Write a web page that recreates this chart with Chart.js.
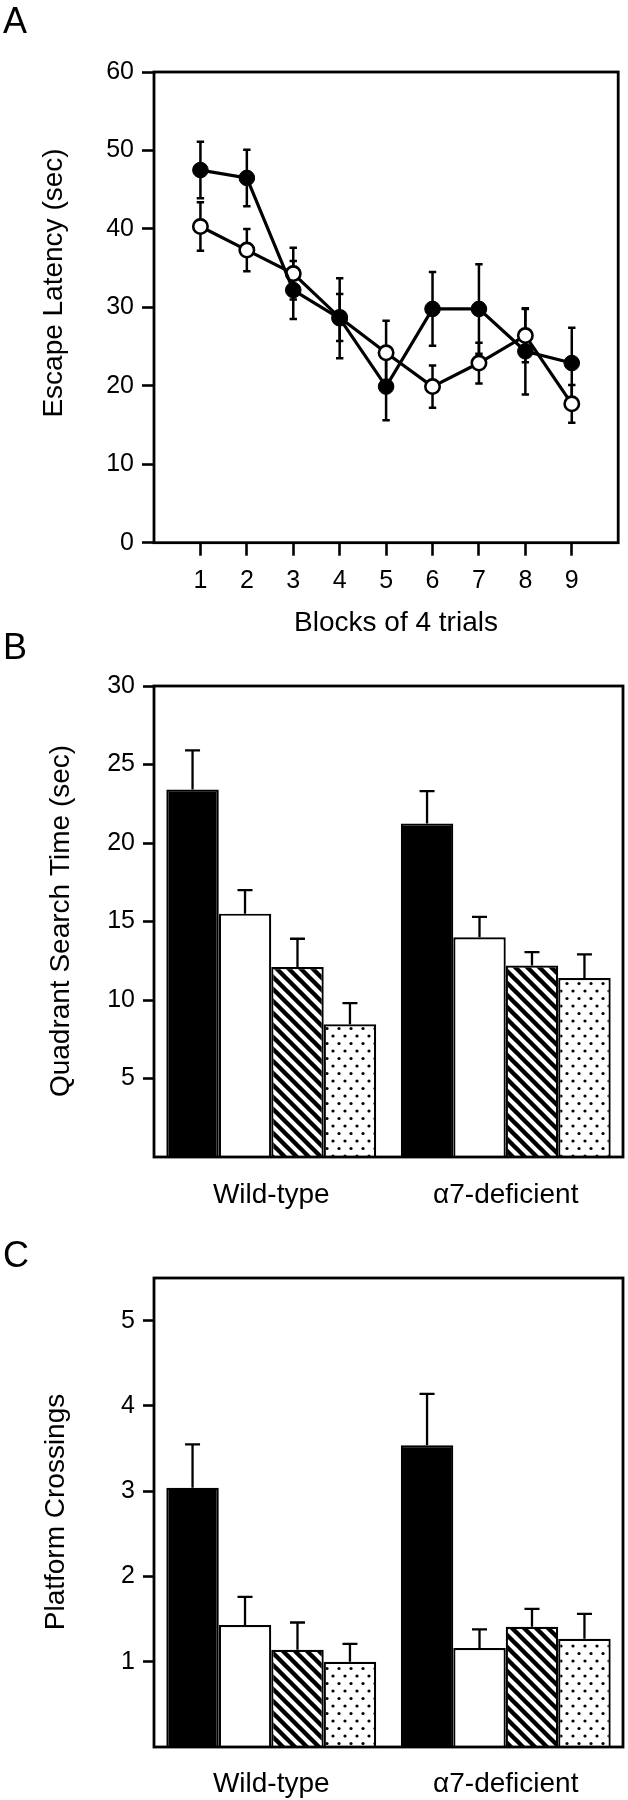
<!DOCTYPE html>
<html>
<head>
<meta charset="utf-8">
<script src="https://cdn.jsdelivr.net/npm/chart.js@4.4.1/dist/chart.umd.min.js"></script>
<style>
  html, body { margin: 0; padding: 0; background: #fff; }
  body { width: 628px; height: 1800px; position: relative; overflow: hidden; }
  canvas { position: absolute; left: 0; }
</style>
</head>
<body>
<canvas id="chartA" width="628" height="660" style="top:0px"></canvas>
<canvas id="chartB" width="628" height="600" style="top:620px"></canvas>
<canvas id="chartC" width="628" height="600" style="top:1200px"></canvas>
<script>
// ─── Panel A: escape latency per block ────────────────────
const BLOCKS       = [1, 2, 3, 4, 5, 6, 7, 8, 9];
const A_Y_TICKS    = [0, 10, 20, 30, 40, 50, 60];
const A_FILLED     = [47.5, 46.5, 32.2, 28.6, 19.9, 29.8, 29.8, 24.4, 22.9];
const A_FILLED_ERR = [3.6, 3.6, 3.7, 5.1, 4.3, 4.7, 5.7, 5.5, 4.5];
const A_OPEN       = [40.3, 37.3, 34.3, 28.7, 24.2, 19.9, 22.9, 26.4, 17.7];
const A_OPEN_ERR   = [3.1, 2.7, 3.3, 3.0, 4.1, 2.7, 2.6, 3.4, 2.4];

// ─── Panels B and C: groups ───────────────────────────────
const GROUPS = ['Wild-type', 'α7-deficient'];

const B_Y_TICKS   = [5, 10, 15, 20, 25, 30];
const B_BLACK     = [23.4, 21.25];
const B_BLACK_ERR = [2.5, 2.05];
const B_WHITE     = [15.5, 14.0];
const B_WHITE_ERR = [1.5, 1.3];
const B_HATCH     = [12.1, 12.2];
const B_HATCH_ERR = [1.8, 0.85];
const B_DOT       = [8.45, 11.4];
const B_DOT_ERR   = [1.35, 1.5];

const C_Y_TICKS   = [1, 2, 3, 4, 5];
const C_BLACK     = [3.04, 3.54];
const C_BLACK_ERR = [0.51, 0.6];
const C_WHITE     = [1.43, 1.16];
const C_WHITE_ERR = [0.33, 0.22];
const C_HATCH     = [1.14, 1.41];
const C_HATCH_ERR = [0.32, 0.21];
const C_DOT       = [1.0, 1.27];
const C_DOT_ERR   = [0.21, 0.29];

const FONT = "'Liberation Sans', Arial, Helvetica, sans-serif";
Chart.defaults.font.family = FONT;
Chart.defaults.color = '#000';
Chart.defaults.animation = false;

// ─── Patterns ─────────────────────────────────────────────
function hatchPattern(ctx) {
  const c = document.createElement('canvas');
  c.width = 12; c.height = 12;
  const g = c.getContext('2d');
  g.fillStyle = '#fff'; g.fillRect(0, 0, 12, 12);
  g.strokeStyle = '#000'; g.lineWidth = 4.4;
  for (const k of [-12, 0, 12]) {
    g.beginPath(); g.moveTo(k - 3, -3); g.lineTo(k + 15, 15); g.stroke();
  }
  return ctx.createPattern(c, 'repeat');
}

function dotPattern(ctx) {
  const c = document.createElement('canvas');
  c.width = 12; c.height = 15;
  const g = c.getContext('2d');
  g.fillStyle = '#fff'; g.fillRect(0, 0, 12, 15);
  g.fillStyle = '#000';
  [[3, 3.5], [9, 11]].forEach(([x, y]) => {
    g.beginPath(); g.arc(x, y, 1.6, 0, Math.PI * 2); g.fill();
  });
  return ctx.createPattern(c, 'repeat');
}

// ─── Plugins ──────────────────────────────────────────────
const frameBox = {
  id: 'frameBox',
  afterDraw(chart) {
    const { ctx, chartArea: a } = chart;
    ctx.save();
    ctx.strokeStyle = '#000';
    ctx.lineWidth = 2.8;
    ctx.strokeRect(a.left, a.top, a.right - a.left, a.bottom - a.top);
    ctx.restore();
  }
};

const errorBars = {
  id: 'errorBars',
  beforeDatasetsDraw(chart, args, opts) {
    const y = chart.scales.y;
    const ctx = chart.ctx;
    ctx.save();
    ctx.strokeStyle = '#000';
    ctx.lineWidth = opts.lineWidth;
    chart.data.datasets.forEach((ds, i) => {
      if (!ds.errorBars) return;
      chart.getDatasetMeta(i).data.forEach((el, j) => {
        const d = ds.data[j];
        const v = typeof d === 'object' ? d.y : d;
        const e = ds.errorBars[j];
        const top = y.getPixelForValue(v + e);
        const bot = y.getPixelForValue(opts.upOnly ? v : v - e);
        ctx.beginPath();
        ctx.moveTo(el.x, top); ctx.lineTo(el.x, bot);
        ctx.moveTo(el.x - opts.cap, top); ctx.lineTo(el.x + opts.cap, top);
        if (!opts.upOnly) { ctx.moveTo(el.x - opts.cap, bot); ctx.lineTo(el.x + opts.cap, bot); }
        ctx.stroke();
      });
    });
    ctx.restore();
  }
};

const panelText = {
  id: 'panelText',
  afterDraw(chart, args, o) {
    const ctx = chart.ctx;
    ctx.save();
    ctx.fillStyle = '#000';
    ctx.textBaseline = 'alphabetic';
    ctx.font = '36px ' + FONT;
    ctx.textAlign = 'left';
    ctx.fillText(o.letter, 3, o.letterY);
    ctx.font = '28px ' + FONT;
    ctx.save();
    ctx.translate(o.yTitleX, o.yTitleY);
    ctx.rotate(-Math.PI / 2);
    ctx.textAlign = 'center';
    ctx.fillText(o.yTitle, 0, 0);
    ctx.restore();
    if (o.xTitle) {
      ctx.textAlign = 'center';
      ctx.fillText(o.xTitle, o.xTitleX, o.xTitleY);
    }
    ctx.restore();
  }
};

function yAxis(min, max, ticks, tickLen) {
  return {
    type: 'linear', min, max,
    afterFit: s => { s.width = 154; },
    afterBuildTicks: s => { s.ticks = ticks.map(v => ({ value: v })); },
    border: { display: false },
    grid: { drawOnChartArea: false, drawTicks: true, tickLength: tickLen, tickWidth: 2.6, tickColor: '#000' },
    ticks: { font: { size: 25 }, padding: 8, color: '#000' }
  };
}

// ─── Chart A ──────────────────────────────────────────────
new Chart(document.getElementById('chartA'), {
  type: 'line',
  data: {
    datasets: [
      {
        data: BLOCKS.map((b, i) => ({ x: b, y: A_FILLED[i] })),
        errorBars: A_FILLED_ERR,
        borderColor: '#000', borderWidth: 3.2,
        pointBackgroundColor: '#000', pointBorderColor: '#000',
        pointRadius: 7.8, pointBorderWidth: 1, tension: 0
      },
      {
        data: BLOCKS.map((b, i) => ({ x: b, y: A_OPEN[i] })),
        errorBars: A_OPEN_ERR,
        borderColor: '#000', borderWidth: 3.2,
        pointBackgroundColor: '#fff', pointBorderColor: '#000',
        pointRadius: 7.2, pointBorderWidth: 2.6, tension: 0
      }
    ]
  },
  options: {
    responsive: false,
    devicePixelRatio: 1,
    layout: { padding: { top: 72, right: 5, bottom: 0, left: 0 } },
    scales: {
      x: {
        type: 'linear', min: 0, max: 10,
        afterFit: s => { s.height = 117.3; },
        afterBuildTicks: s => { s.ticks = BLOCKS.map(v => ({ value: v })); },
        border: { display: false },
        grid: { drawOnChartArea: false, drawTicks: true, tickLength: 13, tickWidth: 2.6, tickColor: '#000' },
        ticks: { font: { size: 25 }, padding: 10, color: '#000', maxRotation: 0 }
      },
      y: yAxis(0, 60, A_Y_TICKS, 12)
    },
    plugins: {
      legend: { display: false },
      tooltip: { enabled: false },
      errorBars: { lineWidth: 2.5, cap: 3.7, upOnly: false },
      panelText: {
        letter: 'A', letterY: 33,
        yTitle: 'Escape Latency (sec)', yTitleX: 62, yTitleY: 283,
        xTitle: 'Blocks of 4 trials', xTitleX: 396, xTitleY: 631
      }
    }
  },
  plugins: [errorBars, frameBox, panelText]
});

// ─── Bar panels B and C ───────────────────────────────────
function barChart(id, series, errs, yMin, yMax, yTicks, xHeight, labelPad, text) {
  const canvas = document.getElementById(id);
  const ctx = canvas.getContext('2d');
  const fills = ['#000', '#fff', hatchPattern(ctx), dotPattern(ctx)];
  return new Chart(canvas, {
    type: 'bar',
    data: {
      labels: GROUPS,
      datasets: series.map((s, i) => ({
        data: s,
        errorBars: errs[i],
        backgroundColor: fills[i],
        borderColor: '#000',
        borderWidth: 2.2,
        borderSkipped: 'bottom',
        categoryPercentage: 0.895,
        barPercentage: 1
      }))
    },
    options: {
      responsive: false,
      devicePixelRatio: 1,
      layout: { padding: { top: text.boxTop, right: 5, bottom: 0, left: 0 } },
      scales: {
        x: {
          afterFit: s => { s.height = xHeight; },
          border: { display: false },
          grid: { display: false, drawTicks: false },
          ticks: { font: { size: 28 }, padding: labelPad, color: '#000', maxRotation: 0 }
        },
        y: yAxis(yMin, yMax, yTicks, 11)
      },
      plugins: {
        legend: { display: false },
        tooltip: { enabled: false },
        errorBars: { lineWidth: 2.3, cap: 7.5, upOnly: true },
        panelText: text
      }
    },
    plugins: [errorBars, frameBox, panelText]
  });
}

barChart('chartB',
  [B_BLACK, B_WHITE, B_HATCH, B_DOT],
  [B_BLACK_ERR, B_WHITE_ERR, B_HATCH_ERR, B_DOT_ERR],
  0, 30, B_Y_TICKS, 63, 21,
  { boxTop: 66, letter: 'B', letterY: 39,
    yTitle: 'Quadrant Search Time (sec)', yTitleX: 69, yTitleY: 301 });

barChart('chartC',
  [C_BLACK, C_WHITE, C_HATCH, C_DOT],
  [C_BLACK_ERR, C_WHITE_ERR, C_HATCH_ERR, C_DOT_ERR],
  0, 5.5, C_Y_TICKS, 53, 20,
  { boxTop: 78, letter: 'C', letterY: 67,
    yTitle: 'Platform Crossings', yTitleX: 64, yTitleY: 312 });
</script>
</body>
</html>
